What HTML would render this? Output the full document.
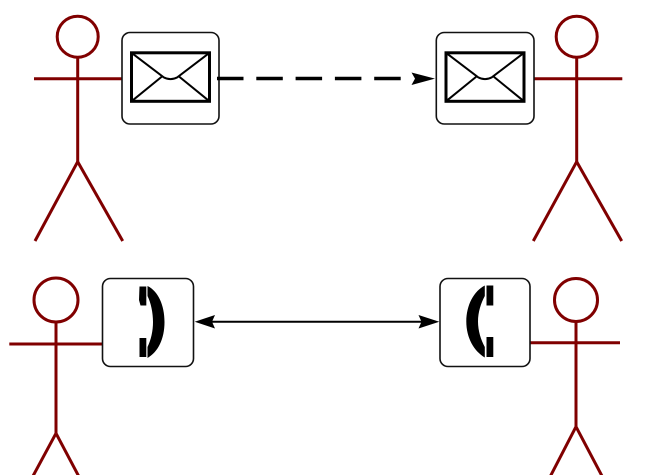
<!DOCTYPE html>
<html>
<head>
<meta charset="utf-8">
<style>
  html, body { margin: 0; padding: 0; background: #ffffff; }
  body { width: 645px; height: 475px; overflow: hidden; }
  svg { display: block; }
</style>
</head>
<body>
<svg width="645" height="475" viewBox="0 0 645 475" xmlns="http://www.w3.org/2000/svg">
  <rect width="645" height="475" fill="#ffffff"/>

  <!-- ===== Top-left actor ===== -->
  <g stroke="#800000" stroke-width="3" fill="none" stroke-linecap="butt">
    <circle cx="77.7" cy="36.7" r="20.5"/>
    <line x1="77.7" y1="57" x2="77.7" y2="161.7"/>
    <line x1="34" y1="78.7" x2="122" y2="78.7"/>
    <line x1="77.7" y1="161.7" x2="35" y2="241"/>
    <line x1="77.7" y1="161.7" x2="122.7" y2="241"/>
  </g>

  <!-- ===== Top-right actor ===== -->
  <g stroke="#800000" stroke-width="3" fill="none">
    <circle cx="576.7" cy="36.7" r="20.5"/>
    <line x1="576.7" y1="57" x2="576.7" y2="161.7"/>
    <line x1="534.5" y1="78.7" x2="622.3" y2="78.7"/>
    <line x1="576.7" y1="161.7" x2="533.3" y2="241"/>
    <line x1="576.7" y1="161.7" x2="621.7" y2="241"/>
  </g>

  <!-- ===== Bottom-left actor ===== -->
  <g stroke="#800000" stroke-width="3" fill="none">
    <circle cx="56" cy="300" r="22"/>
    <line x1="56" y1="322" x2="56" y2="433.3"/>
    <line x1="9.3" y1="344" x2="102.5" y2="344"/>
    <line x1="56" y1="433.3" x2="33" y2="476"/>
    <line x1="56" y1="433.3" x2="78.6" y2="476"/>
  </g>

  <!-- ===== Bottom-right actor ===== -->
  <g stroke="#800000" stroke-width="3" fill="none">
    <circle cx="576" cy="300" r="21.5"/>
    <line x1="576" y1="321.5" x2="576" y2="426.7"/>
    <line x1="530" y1="342.7" x2="620" y2="342.7"/>
    <line x1="576" y1="426.7" x2="550.5" y2="476"/>
    <line x1="576" y1="426.7" x2="602" y2="476"/>
  </g>

  <!-- ===== Top-left envelope box ===== -->
  <rect x="122" y="32.5" width="97" height="91.5" rx="8" ry="8" fill="#ffffff" stroke="#111" stroke-width="1.6"/>
  <g stroke="#000" fill="none">
    <rect x="131.5" y="52.8" width="78" height="48.5" stroke-width="3"/>
    <path d="M131.5 52.8 L163.5 77.2 Q170.5 81 177.5 77.2 L209.5 52.8" stroke-width="2"/>
    <line x1="131.5" y1="101.3" x2="162" y2="76.5" stroke-width="2"/>
    <line x1="209.5" y1="101.3" x2="179" y2="76.5" stroke-width="2"/>
  </g>

  <!-- ===== Top-right envelope box ===== -->
  <rect x="436.3" y="32.5" width="97.7" height="91.5" rx="8" ry="8" fill="#ffffff" stroke="#111" stroke-width="1.6"/>
  <g stroke="#000" fill="none">
    <rect x="446" y="52.8" width="78" height="48.5" stroke-width="3"/>
    <path d="M446 52.8 L478 77.2 Q485 81 492 77.2 L524 52.8" stroke-width="2"/>
    <line x1="446" y1="101.3" x2="476.5" y2="76.5" stroke-width="2"/>
    <line x1="524" y1="101.3" x2="493.5" y2="76.5" stroke-width="2"/>
  </g>

  <!-- ===== Dashed arrow ===== -->
  <line x1="217" y1="78.5" x2="412" y2="78.5" stroke="#000" stroke-width="3.6" stroke-dasharray="26.5 12.8"/>
  <path d="M411.5 72.5 L435 78.6 L411.5 85 L415 78.6 Z" fill="#000"/>

  <!-- ===== Bottom-left phone box ===== -->
  <rect x="102.5" y="278.5" width="91" height="88" rx="8" ry="8" fill="#ffffff" stroke="#111" stroke-width="1.6"/>
  <g fill="#000">
    <path d="M139.5 286.5 L146.3 286.5 L146.3 305.5 L140.5 305.5 L139 300 Z"/>
    <path d="M139.5 338 L146.3 338 L146.3 357 L139.5 357 Z"/>
    <path d="M147.5 286 C158 291 164.5 305 164.5 322 C164.5 339 158 352 147.5 358 L147.5 347 C151 340 153 331 153 322 C153 313 151 303 147.5 296 Z"/>
  </g>

  <!-- ===== Bottom-right phone box ===== -->
  <rect x="440" y="278.5" width="90" height="88" rx="8" ry="8" fill="#ffffff" stroke="#111" stroke-width="1.6"/>
  <g fill="#000">
    <path d="M486.5 285.5 L493.3 285.5 L493.3 305.5 L486.5 305.5 Z"/>
    <path d="M486.5 337 L493.3 337 L493.3 357 L486.5 357 Z"/>
    <path d="M484.8 285.5 C474 291 466.3 305 466.3 321.5 C466.3 338 474 351 484.8 357.5 L484.8 347 C481 340 478 331 478 321.5 C478 312 481 303 484.8 296 Z"/>
  </g>

  <!-- ===== Bidirectional arrow ===== -->
  <line x1="210" y1="321.7" x2="423" y2="321.7" stroke="#000" stroke-width="2"/>
  <path d="M194.7 321.7 L215 315 L212 321.7 L215 328.5 Z" fill="#000"/>
  <path d="M439.3 321.7 L418.5 315 L421.5 321.7 L418.5 328.5 Z" fill="#000"/>
</svg>
</body>
</html>
